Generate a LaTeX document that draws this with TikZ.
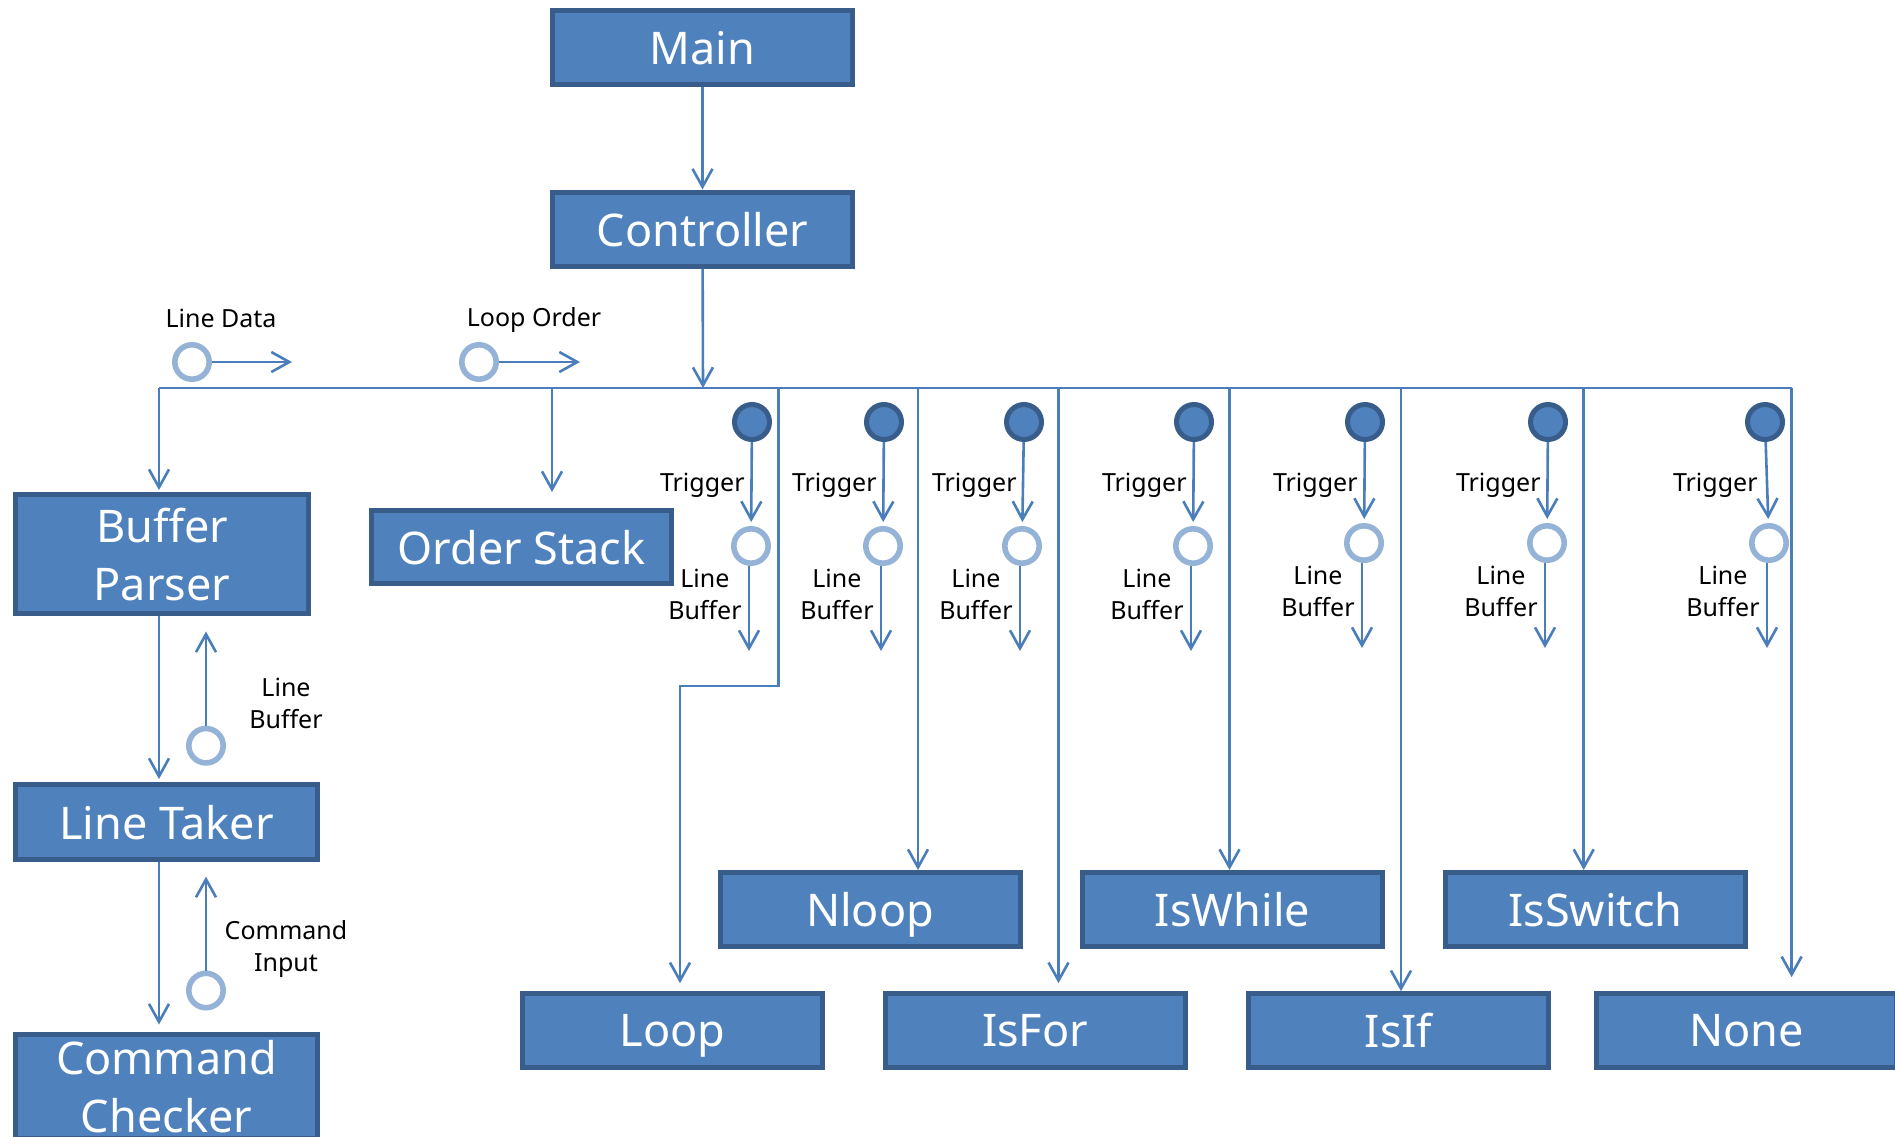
\documentclass[tikz,border=0pt]{standalone}
\usepackage{fontspec}
\setmainfont{Noto Sans}
\usetikzlibrary{arrows.meta}
\definecolor{boxfill}{HTML}{4F81BD}
\definecolor{boxline}{HTML}{385D8A}
\definecolor{wireblue}{HTML}{4A7EBB}
\definecolor{ringblue}{HTML}{95B3D7}

\begin{document}
\begin{tikzpicture}[x=0.5pt,y=-0.5pt,>={Straight Barb[length=9pt,width=10pt]},
    module/.style={draw=boxline,fill=boxfill,line width=2.5pt,inner sep=2pt,
      minimum width=150pt,minimum height=37pt,text=white,align=center,text depth=0pt,
      font=\fontsize{22.5}{29}\selectfont},
    link/.style={draw=wireblue,line width=1.3pt},
    flag/.style={circle,draw=boxline,fill=boxfill,line width=2.5pt,minimum size=17.5pt,inner sep=0pt},
    port/.style={circle,draw=ringblue,fill=white,line width=2.8pt,minimum size=17.2pt,inner sep=0pt},
    tag/.style={font=\fontsize{12.5}{16}\selectfont,align=center,inner sep=0pt}]
  \useasboundingbox (0,0) rectangle (1895,1136);

  % modules
  \node[module] (main) at (702.5,47.5) {Main};
  \node[module] (ctrl) at (702.5,229) {Controller};
  \node[module,minimum width=146.5pt,minimum height=59.5pt] (bp) at (162,554) {Buffer\\Parser};
  \node[module,minimum height=36.5pt] (os) at (521.5,547) {Order Stack};
  \node[module,minimum width=151pt,minimum height=37.5pt] (lt) at (166.5,822) {Line Taker};
  \node[module,minimum width=151pt,minimum height=52pt] (cc) at (166.5,1086) {Command\\Checker};
  \node[module] (nloop) at (870,909.5) {Nloop};
  \node[module] (iswhile) at (1232.5,909.5) {IsWhile};
  \node[module] (isswitch) at (1595.5,909.5) {IsSwitch};
  \node[module] (loop) at (672.6,1030.7) {Loop};
  \node[module] (isfor) at (1035,1030.7) {IsFor};
  \node[module] (isif) at (1398.6,1030.7) {IsIf};
  \node[module] (none) at (1746.5,1030.7) {None};

  % bus
  \foreach \n/\x in {dbp/159,dos/552,dctl/703,dloop/778.6,dnloop/918,dfor/1058.5,
      dwhile/1229.5,dif/1401,dswitch/1583.7,dnone/1791.6}
    \coordinate (\n) at (\x,388);
  \coordinate (bend) at (680,686);

  \draw[link,->] (main) -- (ctrl);
  \draw[link,->] (ctrl) -- (dctl);
  \draw[link] (dbp) -- (dnone);
  \draw[link,->,shorten >=1pt] (dbp) -- (dbp |- bp.north);
  \draw[link,->,shorten >=8pt] (dos) -- (dos |- os.north);
  \draw[link,->,shorten >=4pt] (dloop) |- (bend) -- (bend |- loop.north);
  \draw[link,->] (dnloop) -- (dnloop |- nloop.north);
  \draw[link,->,shorten >=4pt] (dfor) -- (dfor |- isfor.north);
  \draw[link,->] (dwhile) -- (dwhile |- iswhile.north);
  \draw[link,->] (dif) -- (dif |- isif.north);
  \draw[link,->] (dswitch) -- (dswitch |- isswitch.north);
  \draw[link,->,shorten >=7pt] (dnone) -- (dnone |- none.north);

  % left chain
  \draw[link,->,shorten >=1.5pt] (dbp |- bp.south) -- (dbp |- lt.north);
  \draw[link,->,shorten >=3.5pt] (dbp |- lt.south) -- (dbp |- cc.north);

  \node[port] (rb1) at (206,745.7) {};
  \coordinate (rb1end) at (206,631.5);
  \draw[link,->] (rb1) -- (rb1end);
  \node[tag] (rb1txt) at (286,703) {Line\\Buffer};
  \node[port] (rb2) at (206,990.5) {};
  \coordinate (rb2end) at (206,876.6);
  \draw[link,->] (rb2) -- (rb2end);
  \node[tag] (rb2txt) at (286,949) {Command\\Input};

  % data ports on the bus
  \node[port] (ld) at (192,362) {};
  \coordinate (ldend) at (292,362);
  \draw[link,->] (ld) -- (ldend);
  \node[tag] (ldtxt) at (221,318) {Line Data};
  \node[port] (lo) at (479,362) {};
  \coordinate (loend) at (580,362);
  \draw[link,->] (lo) -- (loend);
  \node[tag] (lotxt) at (534,320) {Loop Order};

  % triggers
  \foreach \i/\fx/\hx/\hy in {1/752/751/546,2/884/883/546,3/1024/1022/546,
      4/1194/1193/546,5/1365/1364/543,6/1548/1547/543,7/1765/1769/543}{
    \node[flag] (t\i) at (\fx,422) {};
    \node[port] (b\i) at (\hx,\hy) {};
    \coordinate (e\i) at (\hx-2,\hy+105);
    \draw[link,->,shorten >=2pt] (t\i) -- (b\i);
    \draw[link,->] (b\i.south -| e\i) -- (e\i);
    \node[tag,anchor=east] (tt\i) at (\fx-7,485) {Trigger};
    \node[tag,anchor=east] (lb\i) at (\hx-9,\hy+48) {Line\\Buffer};
  }
\end{tikzpicture}
\end{document}
